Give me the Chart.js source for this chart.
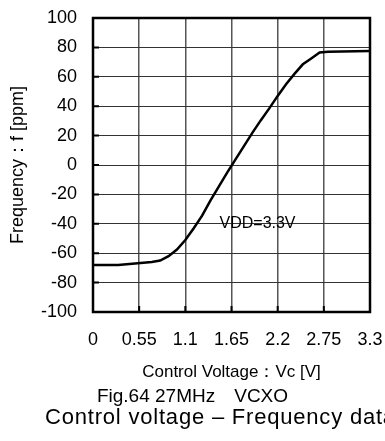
<!DOCTYPE html>
<html>
<head>
<meta charset="utf-8">
<script src="https://cdn.jsdelivr.net/npm/chart.js@4.4.1/dist/chart.umd.min.js"></script>
<style>
  html, body { margin: 0; padding: 0; background: #fff; overflow: hidden; }
  #wrap { position: relative; width: 385px; height: 441px; overflow: hidden; }
  #chart { position: absolute; left: 0; top: 0; }
  .cap { position: absolute; font-family: "Liberation Sans", Arial, sans-serif; color: #000; white-space: nowrap; }
</style>
</head>
<body>
<div id="wrap">
  <canvas id="chart" width="385" height="441"></canvas>
  <div class="cap" style="left:0; width:385px; text-align:center; top:386px; font-size:19px; line-height:19px;">Fig.64 27MHz　VCXO</div>
  <div class="cap" style="left:45px; top:406px; font-size:22px; line-height:22px; letter-spacing:0.8px;">Control voltage – Frequency data</div>
</div>
<script>
// control voltage (V) and frequency deviation (ppm)
const voltage = [0, 0.1, 0.2, 0.3, 0.4, 0.5, 0.6, 0.7, 0.8, 0.9, 1.0, 1.1, 1.2, 1.3, 1.4, 1.5, 1.6,
                 1.7, 1.8, 1.9, 2.0, 2.1, 2.2, 2.3, 2.4, 2.5, 2.6, 2.7, 2.8, 3.3];
const freqPpm = [-68, -68, -68, -68, -67.5, -67, -66.5, -66, -65, -62, -57.5, -51, -43, -34.5, -24, -14.5, -5,
                 4, 13, 22, 30.5, 38.5, 47, 55, 62, 68.5, 72.5, 76.5, 77, 77.5];

const xTicks = [0, 0.55, 1.1, 1.65, 2.2, 2.75, 3.3];
const xTickLabels = ['0', '0.55', '1.1', '1.65', '2.2', '2.75', '3.3'];
const yTicks = [-100, -80, -60, -40, -20, 0, 20, 40, 60, 80, 100];

const noteText = 'VDD=3.3V';
const notePos = [1.96, -40];

const FONT = '"Liberation Sans", Arial, sans-serif';

// frame, inward tick marks and the VDD note
const framePlugin = {
  id: 'frame',
  afterDraw(chart) {
    const { ctx, chartArea: a, scales: { x, y } } = chart;
    ctx.save();
    ctx.strokeStyle = '#000';
    ctx.lineWidth = 2;
    ctx.beginPath();
    xTicks.forEach(v => {
      const px = x.getPixelForValue(v);
      ctx.moveTo(px, a.bottom);
      ctx.lineTo(px, a.bottom - 6);
    });
    yTicks.forEach(v => {
      const py = y.getPixelForValue(v);
      ctx.moveTo(a.left, py);
      ctx.lineTo(a.left + 6, py);
    });
    ctx.stroke();
    ctx.lineWidth = 2.5;
    ctx.strokeRect(a.left, a.top, a.right - a.left, a.bottom - a.top);
    ctx.fillStyle = '#000';
    ctx.font = '16px ' + FONT;
    ctx.textAlign = 'center';
    ctx.textBaseline = 'middle';
    ctx.fillText(noteText, x.getPixelForValue(notePos[0]), y.getPixelForValue(notePos[1]));
    ctx.restore();
  }
};

new Chart(document.getElementById('chart'), {
  type: 'line',
  data: {
    datasets: [{
      data: voltage.map((v, i) => ({ x: v, y: freqPpm[i] })),
      borderColor: '#000',
      borderWidth: 2.5,
      pointRadius: 0,
      tension: 0,
      fill: false
    }]
  },
  options: {
    responsive: false,
    animation: false,
    layout: { padding: { top: 18, right: 15, left: 0, bottom: 0 } },
    plugins: { legend: { display: false }, tooltip: { enabled: false } },
    scales: {
      x: {
        type: 'linear',
        min: 0,
        max: 3.3,
        afterBuildTicks: s => { s.ticks = xTicks.map(v => ({ value: v })); },
        afterFit: s => { s.height = 129; s.paddingLeft = 0; s.paddingRight = 0; },
        grid: { color: '#555', lineWidth: 1.5, drawTicks: false },
        border: { display: false },
        ticks: {
          padding: 17,
          color: '#000',
          font: { family: FONT, size: 18 },
          maxRotation: 0,
          callback: (v, i) => xTickLabels[i]
        },
        title: {
          display: true,
          text: 'Control Voltage：Vc [V]',
          color: '#000',
          font: { family: FONT, size: 17 },
          padding: { top: 0, bottom: 58 }
        }
      },
      y: {
        min: -100,
        max: 100,
        afterBuildTicks: s => { s.ticks = yTicks.map(v => ({ value: v })); },
        afterFit: s => { s.width = 93; s.paddingTop = 0; s.paddingBottom = 0; },
        grid: { color: '#333', lineWidth: 1, drawTicks: false },
        border: { display: false },
        ticks: {
          padding: 16,
          color: '#000',
          font: { family: FONT, size: 18 }
        },
        title: {
          display: true,
          text: 'Frequency：f [ppm]',
          color: '#000',
          font: { family: FONT, size: 18 },
          padding: { top: 7, bottom: 0 }
        }
      }
    }
  },
  plugins: [framePlugin]
});
</script>
</body>
</html>
